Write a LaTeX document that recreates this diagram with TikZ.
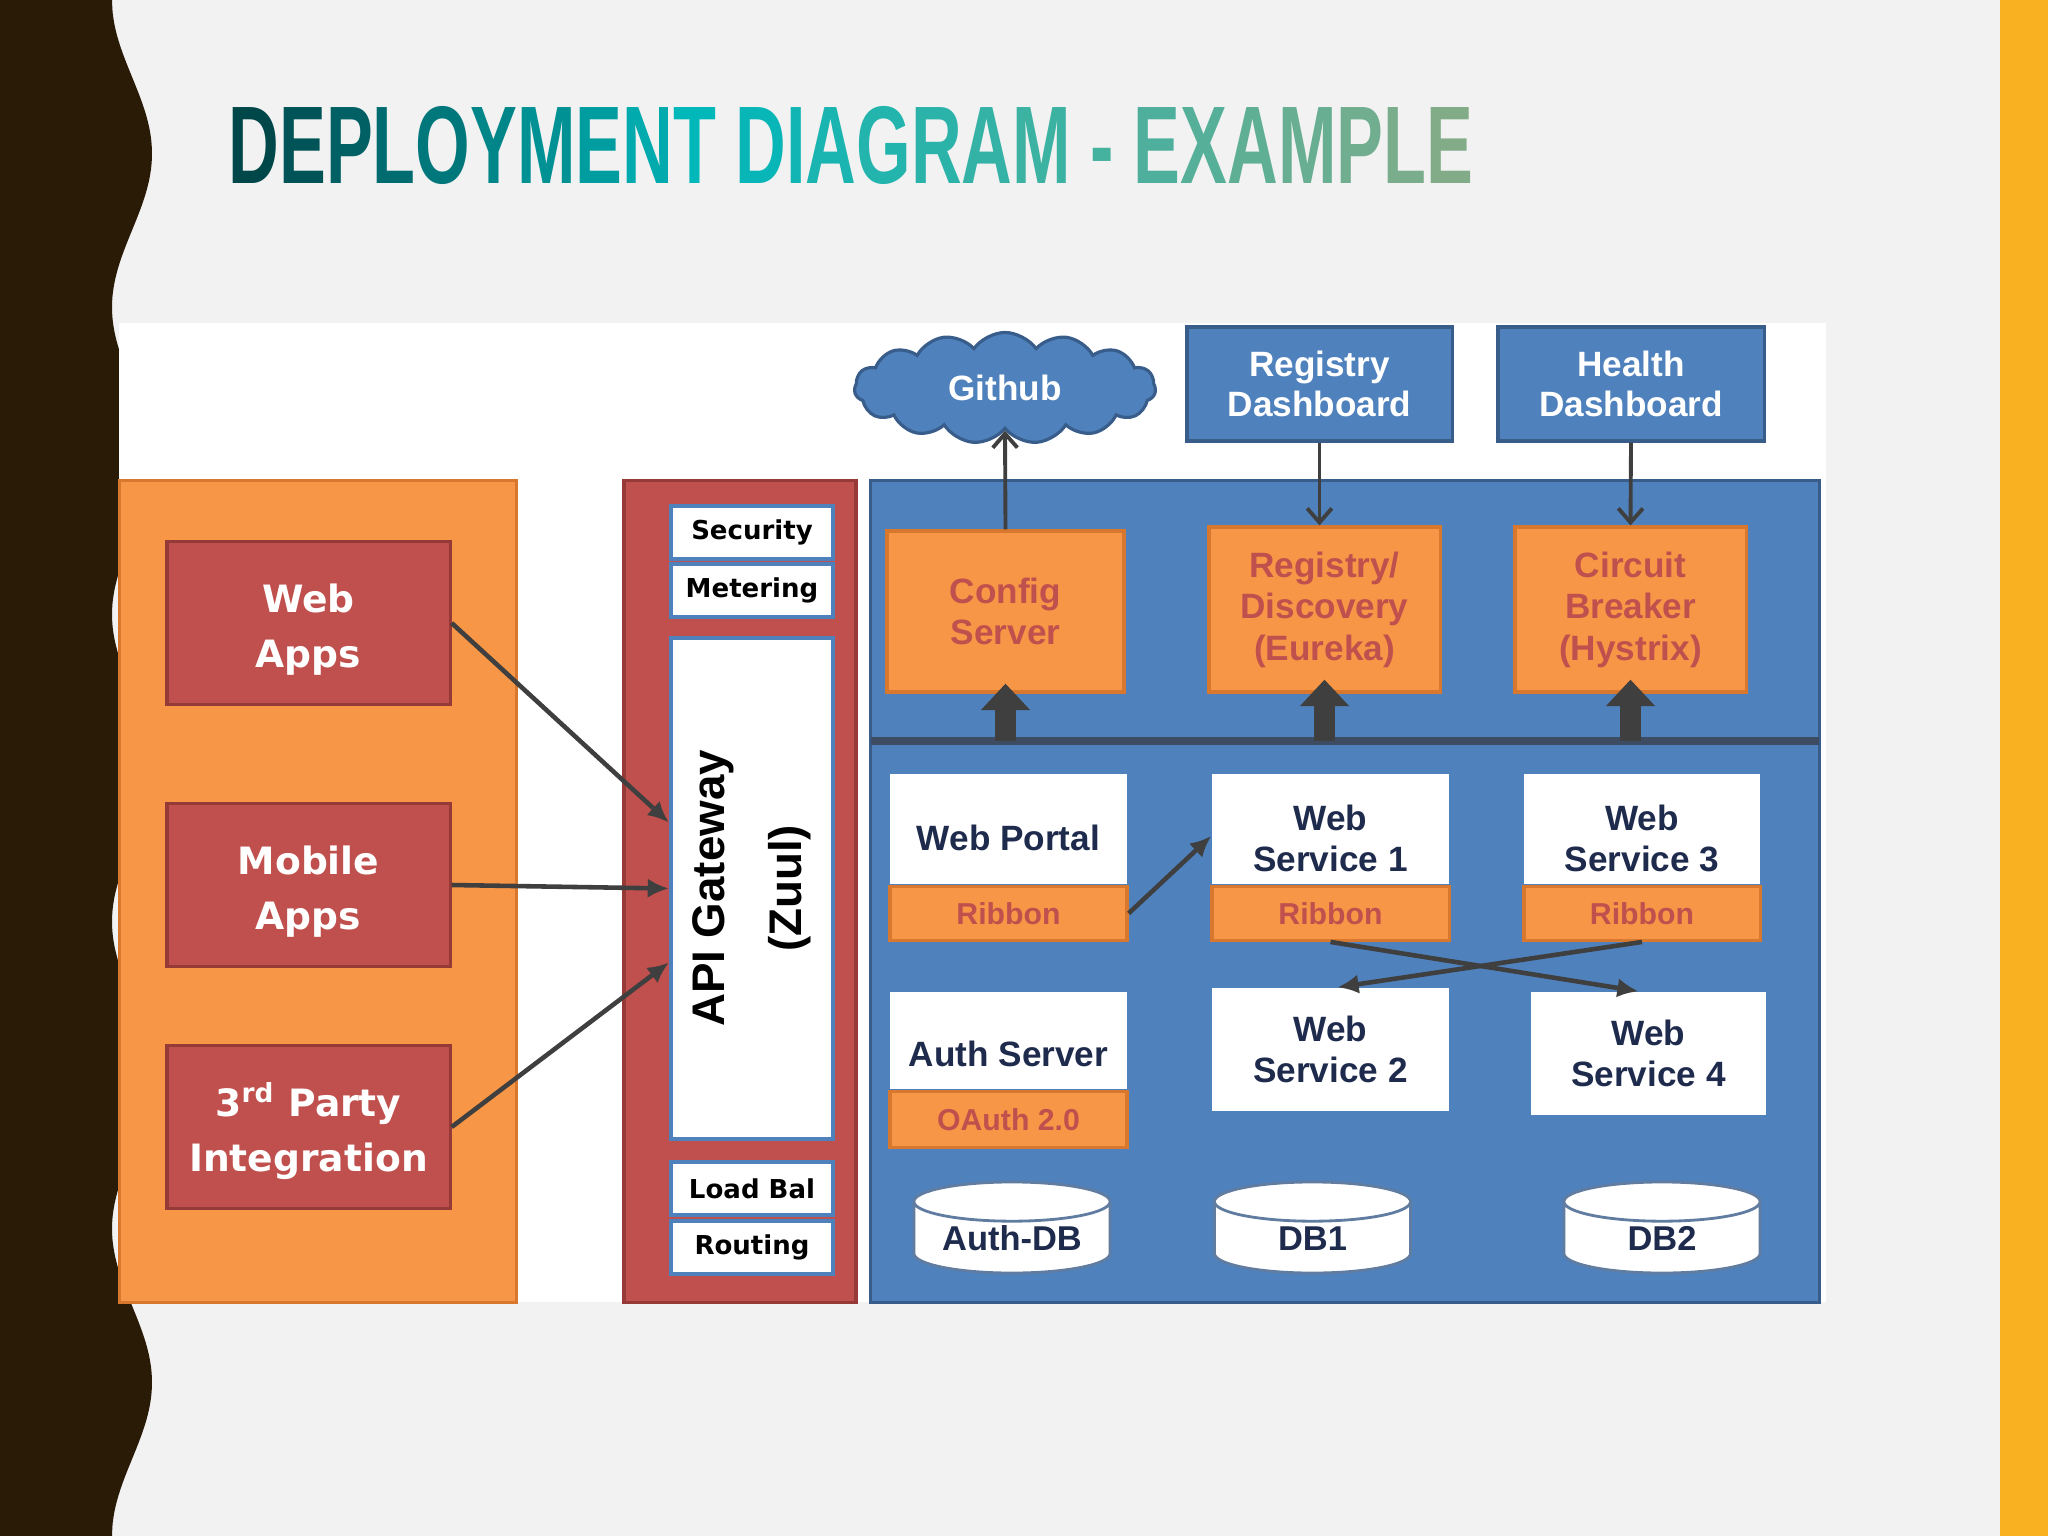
\documentclass[tikz,border=0pt]{standalone}
\usepackage{fontspec}
\setmainfont{Liberation Sans}
\newfontfamily\verd{DejaVu Sans}
\usetikzlibrary{arrows.meta,positioning,shapes.geometric,shapes.symbols}
\definecolor{slidebg}{HTML}{F2F2F2}
\definecolor{slidebrown}{HTML}{2A1B07}
\definecolor{slidegold}{HTML}{F9B122}
\definecolor{clientorange}{HTML}{F79646}
\definecolor{orangeline}{HTML}{D8782E}
\definecolor{gwred}{HTML}{C0504D}
\definecolor{redline}{HTML}{963A37}
\definecolor{svcblue}{HTML}{4F81BD}
\definecolor{blueline}{HTML}{385D8A}
\definecolor{arrowgray}{HTML}{3F3F3F}
\definecolor{busgray}{HTML}{3E4C63}
\definecolor{navytext}{HTML}{1F2B4D}
\definecolor{ttldark}{HTML}{00474A}
\definecolor{ttlmid}{HTML}{00B7BA}
\definecolor{ttlend}{HTML}{82AC88}
% one title letter, coloured along the gradient
\newcommand\ttlchar[2]{\ifnum#1<10\relax\pgfmathtruncatemacro\ttlp{100*(#1-1)/9}\textcolor{ttlmid!\ttlp!ttldark}{#2}%
  \else\pgfmathtruncatemacro\ttlp{100*(#1-10)/15}\textcolor{ttlend!\ttlp!ttlmid}{#2}\fi}
% taller first line, pushes the text block down a little
\newcommand\lowr[1]{\rule{0pt}{#1}}
\tikzset{
  panel/.style={draw=#1, line width=0.9pt, minimum height=8.21cm, inner sep=0pt},
  clientapp/.style={draw=redline, fill=gwred, line width=0.9pt, text=white, align=center,
    font=\verd\bfseries\fontsize{10.7}{15.5}\selectfont, minimum width=2.83cm, minimum height=1.63cm},
  gwpart/.style={draw=svcblue, fill=white, line width=1.2pt, inner sep=0pt,
    font=\verd\bfseries\fontsize{7.4}{9}\selectfont, minimum width=1.62cm, minimum height=0.53cm},
  dashbox/.style={draw=blueline, fill=svcblue, line width=0.9pt, text=white, align=center,
    font=\bfseries\fontsize{10}{11.5}\selectfont, minimum height=1.14cm},
  infra/.style={draw=orangeline, fill=clientorange, line width=0.9pt, text=gwred, align=center,
    font=\bfseries\fontsize{10}{11.8}\selectfont, minimum width=2.31cm, minimum height=1.63cm},
  svcnode/.style={fill=white, text=navytext, align=center, inner sep=0pt,
    font=\bfseries\fontsize{10}{11.5}\selectfont, minimum width=2.37cm},
  ribbon/.style={draw=orangeline, fill=clientorange, line width=0.9pt, text=gwred, inner sep=0pt,
    font=\bfseries\fontsize{8.6}{10}\selectfont, minimum width=2.37cm, minimum height=0.54cm},
  dbnode/.style={cylinder, shape border rotate=90, aspect=0.28, draw=blueline!80, line width=0.8pt,
    fill=white, text=navytext, font=\bfseries\fontsize{9.8}{11}\selectfont, inner sep=0pt,
    text width=1.4cm, align=center, text height=0.26cm, text depth=0.02cm,
    minimum width=1.96cm, minimum height=0.91cm},
  link/.style={-{Latex[length=6pt,width=5.5pt]}, line width=1.3pt, draw=arrowgray},
  thinlink/.style={-{Straight Barb[length=4pt,width=7pt]}, line width=1.1pt, draw=arrowgray},
  fatlink/.style={-{Triangle[length=7.5pt,width=13.5pt]}, line width=6pt, draw=arrowgray}
}
\begin{document}
\begin{tikzpicture}[x=0.01cm, y=-0.01cm, font=\bfseries]
% slide
\fill[slidebg] (0,0) rectangle (2048,1536);
\fill[slidegold] (2000,0) rectangle (2048,1536);
\fill[slidebrown] (0,0) -- plot[domain=0:1536, samples=121, smooth] ({132-20*cos(1.171875*\x)}, \x) -- (0,1536) -- cycle;
\node (ttl) [anchor=base west, xscale=0.636, inner sep=0pt, font=\bfseries\fontsize{31.4}{32}\selectfont] at (228,183)
  {\foreach \c [count=\i] in {D,E,P,L,O,Y,M,E,N,T}{\ttlchar{\i}{\c}}\ %
   \foreach \c [count=\i from 11] in {D,I,A,G,R,A,M}{\ttlchar{\i}{\c}}\ \ttlchar{18}{-}\ %
   \foreach \c [count=\i from 19] in {E,X,A,M,P,L,E}{\ttlchar{\i}{\c}}};
\fill[white] (119,323) rectangle (1826,1302);

% clients
\node (clients) [panel=orangeline, fill=clientorange, minimum width=3.96cm] at (318,891.5) {};
\node (webapps) [clientapp] at (308.5,623) {\lowr{0.42cm}Web\\Apps};
\node (mobapps) [clientapp] at (308.5,885) {\lowr{0.42cm}Mobile\\Apps};
\node (thirdparty) [clientapp] at (308.5,1127) {\lowr{0.42cm}3\textsuperscript{rd} Party\\Integration};

% gateway
\node (gateway) [panel=redline, fill=gwred, minimum width=2.32cm] at (740,891.5) {};
\node (secbox) [gwpart] at (752,532.5) {Security};
\node (meterbox) [gwpart] at (752,590.5) {Metering};
\node (apigw) [gwpart, rotate=90, minimum width=5.01cm, minimum height=1.62cm, align=center,
  font=\bfseries\fontsize{13}{22}\selectfont] at (752,888.5) {API Gateway\\(Zuul)};
\node (lbbox) [gwpart] at (752,1188.5) {Load Bal};
\node (routebox) [gwpart] at (752,1247.5) {Routing};

% services
\node (services) [panel=blueline, fill=svcblue, minimum width=9.48cm] at (1345,891.5) {};
\coordinate (busL) at (871,741);
\coordinate (busR) at (1819,741);
\draw[busgray, line width=2.2pt] (busL) -- (busR);

\node (github) [cloud, cloud puffs=15, cloud puff arc=110, aspect=2.7, draw=blueline, line width=0.9pt,
  fill=svcblue, text=white, font=\bfseries\fontsize{10}{11.5}\selectfont,
  minimum width=3.01cm, minimum height=1.11cm, inner sep=0pt] at (1005,388) {Github};
\node (regdash) [dashbox, minimum width=2.65cm] at (1319.5,384) {Registry\\Dashboard};
\node (healthdash) [dashbox, minimum width=2.66cm] at (1631,384) {Health\\Dashboard};

\node (config) [infra, minimum width=2.37cm, minimum height=1.61cm] at (1005.5,611.5) {Config\\Server};
\node (eureka) [infra, minimum height=1.65cm] at (1324.5,609.5) {Registry/\\Discovery\\(Eureka)};
\node (hystrix) [infra, minimum height=1.65cm] at (1630.5,609.5) {Circuit\\Breaker\\(Hystrix)};

\draw[fatlink] (config.south |- busL) -- ([yshift=0.1cm]config.south);
\draw[fatlink] (eureka.south |- busL) -- ([yshift=0.14cm]eureka.south);
\draw[fatlink] (hystrix.south |- busL) -- ([yshift=0.14cm]hystrix.south);
\draw[thinlink] (config.north) -- (github.south);
\draw[thinlink] (regdash.south) -- (regdash.south |- eureka.north);
\draw[thinlink] (healthdash.south) -- (hystrix.north);

\node (portal) [svcnode, minimum height=1.1cm] at (1008.5,829) {\lowr{0.44cm}Web Portal};
\node (portalrib) [ribbon, below=0pt of portal] {Ribbon};
\node (ws1) [svcnode, minimum height=1.1cm] at (1330.5,829) {\lowr{0.44cm}Web\\Service 1};
\node (ws1rib) [ribbon, below=0pt of ws1] {Ribbon};
\node (ws3) [svcnode, minimum height=1.1cm, minimum width=2.36cm] at (1642,829) {\lowr{0.44cm}Web\\Service 3};
\node (ws3rib) [ribbon, minimum width=2.36cm, below=0pt of ws3] {Ribbon};
\node (auth) [svcnode, minimum height=0.97cm] at (1008.5,1040.5) {\lowr{0.53cm}Auth Server};
\node (oauth) [ribbon, minimum height=0.56cm, below=0pt of auth] {OAuth 2.0};
\node (ws2) [svcnode, minimum height=1.23cm] at (1330.5,1049.5) {Web\\Service 2};
\node (ws4) [svcnode, minimum height=1.23cm, minimum width=2.35cm] at (1648.5,1053.5) {Web\\Service 4};

\node (authdb) [dbnode] at (1012,1238) {Auth-DB};
\node (db1) [dbnode] at (1312.5,1238) {DB1};
\node (db2) [dbnode] at (1662,1238) {DB2};

\draw[link] (portalrib.east) -- ([yshift=-0.07cm]ws1.west);
\draw[link] (ws1rib.south) -- ([xshift=-0.1cm]ws4.north);
\draw[link] (ws3rib.south) -- ([xshift=0.07cm]ws2.north);

% clients to gateway
\draw[link] (webapps.east) -- ([yshift=0.66cm]apigw.north);
\draw[link] (mobapps.east) -- (apigw.north);
\draw[link] (thirdparty.east) -- ([yshift=-0.74cm]apigw.north);
\end{tikzpicture}
\end{document}
